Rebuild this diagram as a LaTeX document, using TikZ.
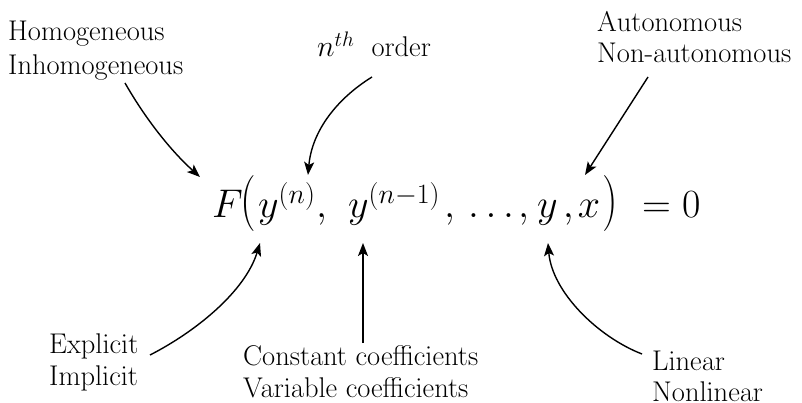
\RequirePackage{fix-cm}
\documentclass[tikz,border=0pt]{standalone}
\usepackage{graphicx}
\usetikzlibrary{arrows.meta}
\newcommand\eqpiece[2]{\makebox[#1pt][l]{$#2$}}
\newcommand\lblfont{\fontencoding{OT1}\fontfamily{cmr}\fontseries{m}\fontshape{n}\fontsize{28.5}{34}\selectfont}
\begin{document}
\begin{tikzpicture}[x=1pt,y=-1pt,
  lbl/.style={inner sep=0pt, anchor=base west, font=\lblfont},
  arr/.style={line width=1.4pt, -{Stealth[length=13pt,width=10pt,inset=3pt]}}]
\useasboundingbox (0,0) rectangle (802,403);
% labels
\node[lbl] (hom1) at (8,41) {Homogeneous};
\node[lbl] (hom2) at (8,75) {Inhomogeneous};
\node[lbl] (nth) at (317,57) {{\fontsize{30}{34}\selectfont$n^{th}$}\hspace{17pt}order};
\node[lbl] (aut1) at (597,32) {Autonomous};
\node[lbl] (aut2) at (597,63) {Non-autonomous};
\node[lbl] (exp1) at (49,353) {Explicit};
\node[lbl] (exp2) at (49,385) {Implicit};
\node[lbl] (con1) at (243,365) {Constant coefficients};
\node[lbl] (con2) at (243,397) {Variable coefficients};
\node[lbl] (lin1) at (652,370) {Linear};
\node[lbl] (lin2) at (652,401) {Nonlinear};
% equation
\node[inner sep=0pt, anchor=base west, font=\fontsize{40}{46}\selectfont] (eq) at (212,218)
  {\eqpiece{28}{F}\makebox[18pt][l]{\scalebox{1.1}[1.4]{$($}}\eqpiece{58}{y^{(n)}}\eqpiece{32}{,}%
   \eqpiece{96}{y^{(n-1)}}\eqpiece{24}{,}\eqpiece{50}{\ldots}\eqpiece{19}{,}%
   \eqpiece{26}{y}\eqpiece{15}{,}\eqpiece{24}{x}\makebox[40pt][l]{\scalebox{1.1}[1.4]{$)$}}%
   \eqpiece{40}{=}\eqpiece{20}{0}};
% targets
\coordinate (tF) at (200,177);
\coordinate (tN) at (308,175);
\coordinate (tX) at (585,175);
\coordinate (tY1) at (260,243);
\coordinate (tY2) at (363,243);
\coordinate (tY) at (548,243);
% start points
\coordinate (sH) at (125,83);
\coordinate (sN) at (372,77);
\coordinate (sA) at (648,77);
\coordinate (sE) at (150,355);
\coordinate (sC) at (363,343);
\coordinate (sL) at (642,354);
% arrows
\draw[arr] (sH) .. controls (145,118) and (170,150) .. (tF);
\draw[arr] (sN) .. controls (338,98) and (312,130) .. (tN);
\draw[arr] (sA) -- (tX);
\draw[arr] (sE) .. controls (195,332) and (245,292) .. (tY1);
\draw[arr] (sC) -- (tY2);
\draw[arr] (sL) .. controls (598,337) and (552,292) .. (tY);
\end{tikzpicture}
\end{document}
